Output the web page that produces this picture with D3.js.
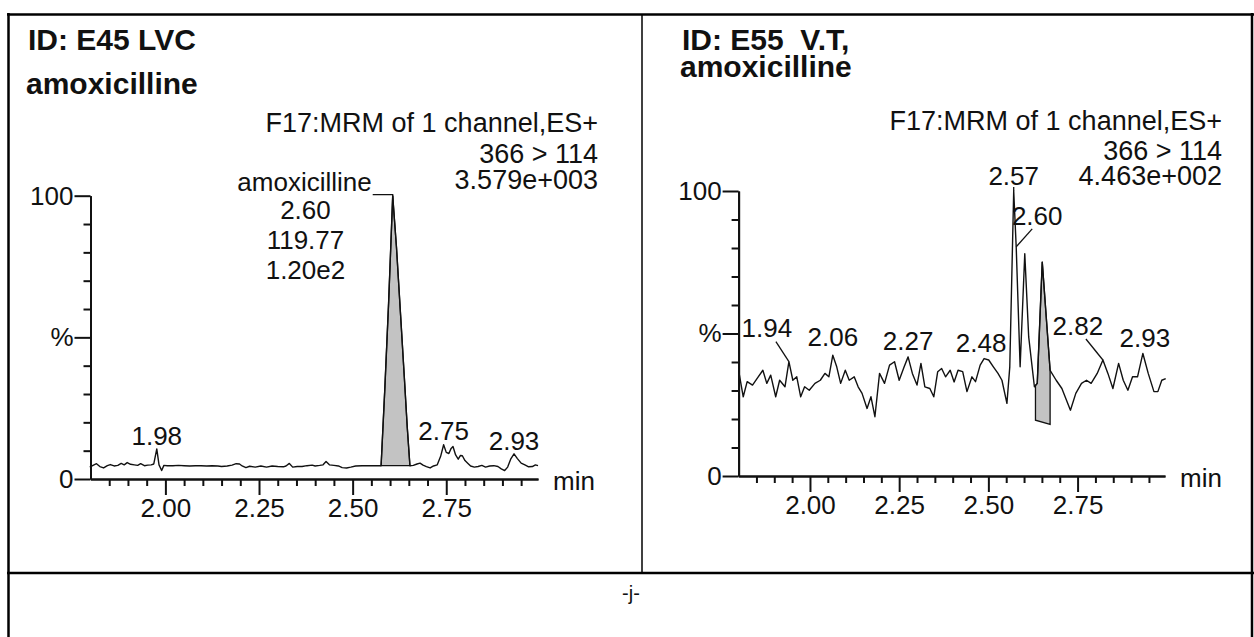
<!DOCTYPE html>
<html>
<head>
<meta charset="utf-8">
<script src="https://cdn.jsdelivr.net/npm/d3@7"></script>
<style>
  html, body { margin: 0; padding: 0; background: #fff; }
  svg { display: block; }
  text { font-family: "Liberation Sans", Arial, sans-serif; fill: #111; white-space: pre; }
</style>
</head>
<body>
<script>
// ---- data (time in min, intensity in %) ----
const leftTime = [1.798, 1.808, 1.816, 1.825, 1.835, 1.845, 1.853, 1.863, 1.873, 1.882,
  1.890, 1.898, 1.907, 1.917, 1.926, 1.934, 1.944, 1.953, 1.962, 1.969,
  1.977, 1.983, 1.990, 1.996, 2.005, 2.020, 2.035, 2.050, 2.065, 2.080,
  2.095, 2.110, 2.125, 2.140, 2.150, 2.165, 2.178, 2.189, 2.198, 2.205,
  2.215, 2.225, 2.240, 2.255, 2.270, 2.285, 2.300, 2.315, 2.322, 2.331,
  2.340, 2.352, 2.365, 2.378, 2.392, 2.400, 2.412, 2.421, 2.429, 2.438,
  2.450, 2.462, 2.472, 2.484, 2.495, 2.508, 2.525, 2.545, 2.560, 2.576,
  2.586, 2.596, 2.603, 2.607, 2.617, 2.628, 2.638, 2.646, 2.653, 2.662,
  2.672, 2.680, 2.688, 2.697, 2.707, 2.716, 2.726, 2.735, 2.743, 2.750,
  2.757, 2.763, 2.768, 2.775, 2.782, 2.788, 2.793, 2.800, 2.808, 2.815,
  2.825, 2.835, 2.845, 2.855, 2.866, 2.877, 2.888, 2.897, 2.906, 2.914,
  2.922, 2.931, 2.940, 2.950, 2.960, 2.970, 2.980, 2.988, 2.995];
const leftPct = [4.2, 4.9, 5.4, 4.4, 3.9, 4.7, 5.1, 4.6, 4.8, 5.5,
  5.0, 5.8, 5.2, 5.0, 4.8, 5.4, 4.7, 4.9, 5.0, 5.3,
  10.6, 5.0, 3.0, 4.8, 4.7, 4.7, 4.8, 4.7, 4.6, 4.7,
  4.7, 4.6, 4.7, 4.6, 4.4, 4.6, 4.9, 5.4, 5.3, 4.6,
  4.0, 4.5, 4.2, 4.6, 4.2, 4.6, 4.4, 4.3, 4.6, 5.5,
  4.2, 4.4, 4.4, 4.7, 4.9, 4.6, 4.8, 5.0, 6.2, 5.0,
  4.8, 4.6, 4.0, 3.9, 4.2, 4.6, 4.7, 4.7, 4.7, 4.7,
  32, 62, 86, 100, 82, 58, 36, 18, 4.7, 4.8,
  5.3, 5.6, 4.9, 4.4, 3.9, 4.6, 5.0, 8.0, 12.1, 9.4,
  9.0, 10.8, 11.5, 8.5, 7.0, 8.3, 8.2, 6.5, 5.5, 4.6,
  4.2, 4.4, 4.8, 4.2, 4.6, 4.7, 4.4, 3.6, 3.0, 4.2,
  7.0, 8.9, 7.2, 5.6, 5.0, 4.3, 4.4, 5.0, 4.7];

const rightTime = [1.800, 1.813, 1.824, 1.839, 1.855, 1.868, 1.879, 1.890, 1.904, 1.915,
  1.930, 1.941, 1.952, 1.963, 1.974, 1.985, 1.998, 2.014, 2.029, 2.042,
  2.053, 2.064, 2.075, 2.086, 2.099, 2.110, 2.124, 2.135, 2.146, 2.160,
  2.171, 2.182, 2.195, 2.209, 2.223, 2.237, 2.250, 2.264, 2.275, 2.287,
  2.300, 2.311, 2.322, 2.336, 2.347, 2.358, 2.369, 2.380, 2.393, 2.404,
  2.415, 2.428, 2.440, 2.454, 2.464, 2.477, 2.488, 2.501, 2.514, 2.527,
  2.538, 2.552, 2.560, 2.571, 2.578, 2.589, 2.602, 2.613, 2.629, 2.637,
  2.651, 2.673, 2.690, 2.706, 2.717, 2.730, 2.745, 2.761, 2.775, 2.788,
  2.805, 2.821, 2.835, 2.849, 2.865, 2.878, 2.891, 2.904, 2.918, 2.933,
  2.948, 2.964, 2.975, 2.986, 2.997];
const rightPct = [37.1, 27.8, 33.1, 31.9, 34.8, 37.1, 32.5, 35.4, 27.8, 33.6,
  31.3, 40.1, 33.6, 34.8, 27.8, 31.3, 30.1, 32.5, 33.6, 36.0,
  34.8, 42.4, 38.3, 32.5, 37.1, 33.6, 34.8, 31.3, 29.0, 23.7,
  27.8, 20.8, 36.0, 32.5, 38.9, 40.1, 33.6, 38.3, 41.8, 36.0,
  31.9, 39.5, 31.3, 30.7, 27.8, 36.6, 37.7, 34.8, 37.1, 33.0,
  37.1, 36.6, 29.6, 34.8, 33.1, 38.9, 41.2, 40.7, 38.3, 36.0,
  33.6, 25.5, 38.3, 100, 80.4, 38.3, 78.0, 48.8, 31.3, 32.5,
  75.1, 37.1, 33.6, 30.7, 27.2, 23.1, 29.0, 32.5, 33.6, 32.5,
  36.0, 40.7, 36.0, 30.7, 39.5, 33.6, 30.1, 34.8, 34.8, 43.0,
  36.0, 29.6, 29.6, 33.6, 34.2];

// integrated peak: start/end time and baseline level (%)
const leftAreaTime = [2.576, 2.653];
const leftAreaBase = [4.7, 4.7];
const rightAreaTime = [2.632, 2.673];
const rightAreaBase = [19.6, 18.1];

const xMajorTicks = [2.00, 2.25, 2.50, 2.75];
const yLabels = { 0: '0', 50: '%', 100: '100' };

const leftPeakLabels = ['1.98', '2.75', '2.93'];
const rightPeakLabels = ['1.94', '2.06', '2.27', '2.48', '2.57', '2.60', '2.82', '2.93'];
const leftMainPeak = ['amoxicilline', '2.60', '119.77', '1.20e2'];

const leftHeader = ['ID: E45 LVC', 'amoxicilline'];
const rightHeader = ['ID: E55  V.T,', 'amoxicilline'];
const leftInfo = ['F17:MRM of 1 channel,ES+', '366 > 114', '3.579e+003'];
const rightInfo = ['F17:MRM of 1 channel,ES+', '366 > 114', '4.463e+002'];

// ---- page ----
const W = 1254, H = 637;
const svg = d3.select('body').append('svg').attr('width', W).attr('height', H);

// table frame
const frame = svg.append('g').attr('stroke', '#000').attr('fill', 'none');
frame.append('line').attr('x1', 7).attr('x2', W).attr('y1', 14.5).attr('y2', 14.5).attr('stroke-width', 2.5);
frame.append('line').attr('x1', 8.5).attr('x2', 8.5).attr('y1', 13).attr('y2', H).attr('stroke-width', 2.5);
frame.append('line').attr('x1', 1252).attr('x2', 1252).attr('y1', 13).attr('y2', H).attr('stroke-width', 2.5);
frame.append('line').attr('x1', 642).attr('x2', 642).attr('y1', 14).attr('y2', 573).attr('stroke-width', 1.5);
frame.append('line').attr('x1', 7).attr('x2', W).attr('y1', 573).attr('y2', 573).attr('stroke-width', 2.5);

svg.append('text').attr('x', 631).attr('y', 600).attr('text-anchor', 'middle')
  .style('font-size', '20px').text('-j-');

function peakAt(times, pcts, t) {
  let best = 0;
  times.forEach((v, i) => { if (Math.abs(v - t) < Math.abs(times[best] - t)) best = i; });
  // local maximum near the label time
  let i = best;
  for (let k = Math.max(0, best - 2); k <= Math.min(times.length - 1, best + 2); k++) {
    if (pcts[k] > pcts[i]) i = k;
  }
  return [times[i], pcts[i]];
}

function interp(times, pcts, t) {
  for (let i = 1; i < times.length; i++) {
    if (times[i] >= t) {
      const f = (t - times[i - 1]) / (times[i] - times[i - 1]);
      return pcts[i - 1] + f * (pcts[i] - pcts[i - 1]);
    }
  }
  return pcts[pcts.length - 1];
}

function drawPanel(p) {
  const g = svg.append('g');
  const x = d3.scaleLinear().domain([1.80, 2.995]).range([p.x0, p.x1]);
  const y = d3.scaleLinear().domain([0, 100]).range([p.yBase, p.yTop]);

  // headers
  g.append('text').attr('x', p.titleX).attr('y', 50)
    .style('font-size', '30px').style('font-weight', 'bold').text(p.header[0]);
  g.append('text').attr('x', p.titleX - 2).attr('y', p.subY)
    .style('font-size', '30px').style('font-weight', 'bold').text(p.header[1]);
  p.info.forEach((s, i) => {
    g.append('text').attr('x', p.infoX).attr('y', p.infoY[i])
      .attr('text-anchor', 'end').style('font-size', '27px').text(s);
  });

  // integrated area
  const t0 = p.areaTime[0], t1 = p.areaTime[1];
  const poly = [[t0, p.areaBase[0]], [t0, interp(p.time, p.pct, t0)]];
  p.time.forEach((t, i) => { if (t > t0 && t < t1) poly.push([t, p.pct[i]]); });
  poly.push([t1, interp(p.time, p.pct, t1)], [t1, p.areaBase[1]]);
  g.append('path')
    .attr('d', d3.line().x(d => x(d[0])).y(d => y(d[1]))(poly) + 'Z')
    .attr('fill', '#c3c3c3').attr('stroke', '#111').attr('stroke-width', 1.3);

  // trace
  const pts = p.time.map((t, i) => [t, p.pct[i]]);
  g.append('path')
    .attr('d', d3.line().x(d => x(d[0])).y(d => y(d[1]))(pts))
    .attr('fill', 'none').attr('stroke', '#111').attr('stroke-width', 1.4)
    .attr('stroke-linejoin', 'round');

  // axes
  const styleAxis = sel => {
    sel.select('.domain').attr('stroke', '#111').attr('stroke-width', 2);
    sel.selectAll('.tick line').attr('stroke', '#111').attr('stroke-width', 2);
    sel.selectAll('text').attr('font-family', null).attr('fill', null).style('font-size', '26px');
  };
  const minorX = d3.range(37, 60).filter(i => i % 5 !== 0).map(i => i * 0.05);
  g.append('g').attr('transform', `translate(0,${p.yBase})`)
    .call(d3.axisBottom(x).tickValues(minorX).tickSize(7).tickSizeOuter(0).tickFormat(''))
    .call(styleAxis);
  g.append('g').attr('transform', `translate(0,${p.yBase})`)
    .call(d3.axisBottom(x).tickValues(xMajorTicks).tickSize(16).tickPadding(4)
      .tickSizeOuter(0).tickFormat(d3.format('.2f')))
    .call(styleAxis);
  const minorY = d3.range(10, 100, 10).filter(v => v !== 50);
  g.append('g').attr('transform', `translate(${p.x0},0)`)
    .call(d3.axisLeft(y).tickValues(minorY).tickSize(7).tickSizeOuter(0).tickFormat(''))
    .call(styleAxis);
  g.append('g').attr('transform', `translate(${p.x0},0)`)
    .call(d3.axisLeft(y).tickValues([0, 50, 100]).tickSize(16).tickPadding(1)
      .tickSizeOuter(0).tickFormat(d => yLabels[d]))
    .call(styleAxis);
  g.append('text').attr('x', p.x1 + 15).attr('y', p.yBase + 11)
    .style('font-size', '26px').text('min');

  // peak labels
  p.labels.forEach((lab, i) => {
    const [pt, pv] = peakAt(p.time, p.pct, +lab);
    const px = x(pt), py = y(pv);
    const o = p.labelOffsets[i];
    g.append('text').attr('x', px + o[0]).attr('y', py + o[1])
      .attr('text-anchor', 'middle').style('font-size', '26px').text(lab);
    if (o[2]) {
      g.append('line').attr('x1', px + o[2][0]).attr('y1', py + o[2][1])
        .attr('x2', px).attr('y2', py).attr('stroke', '#111').attr('stroke-width', 1.3);
    }
  });
  return { x, y, g };
}

const left = drawPanel({
  x0: 90.5, x1: 538, yBase: 479, yTop: 195.7,
  time: leftTime, pct: leftPct, areaTime: leftAreaTime, areaBase: leftAreaBase,
  header: leftHeader, info: leftInfo, titleX: 28, subY: 94, infoX: 598, infoY: [132, 163, 189],
  labels: leftPeakLabels,
  labelOffsets: [[0, -4], [0, -5], [0, -4]]
});

// main peak annotation
{
  const [pt, pv] = peakAt(leftTime, leftPct, 2.607);
  const px = left.x(pt), py = left.y(pv);
  const cx = left.x(2.374);
  left.g.append('text').attr('x', px - 21).attr('y', py - 5).attr('text-anchor', 'end')
    .style('font-size', '26px').text(leftMainPeak[0]);
  leftMainPeak.slice(1).forEach((s, i) => {
    left.g.append('text').attr('x', cx).attr('y', py + 23 + i * 30)
      .attr('text-anchor', 'middle').style('font-size', '26px').text(s);
  });
  left.g.append('path')
    .attr('d', `M${px - 20},${py - 1}H${px}V${py + 5}`)
    .attr('fill', 'none').attr('stroke', '#111').attr('stroke-width', 1.3);
}

drawPanel({
  x0: 738.6, x1: 1165, yBase: 476, yTop: 191,
  time: rightTime, pct: rightPct, areaTime: rightAreaTime, areaBase: rightAreaBase,
  header: rightHeader, info: rightInfo, titleX: 682, subY: 77, infoX: 1222, infoY: [130, 160, 185],
  labels: rightPeakLabels,
  labelOffsets: [
    [-22, -25, [-13, -20]],
    [0, -9],
    [0, -7],
    [-3, -7],
    [0, -6, [0, -4]],
    [21, -22, [16, -18]],
    [-25, -25, [-17, -21]],
    [2, -6]
  ]
});
</script>
</body>
</html>
